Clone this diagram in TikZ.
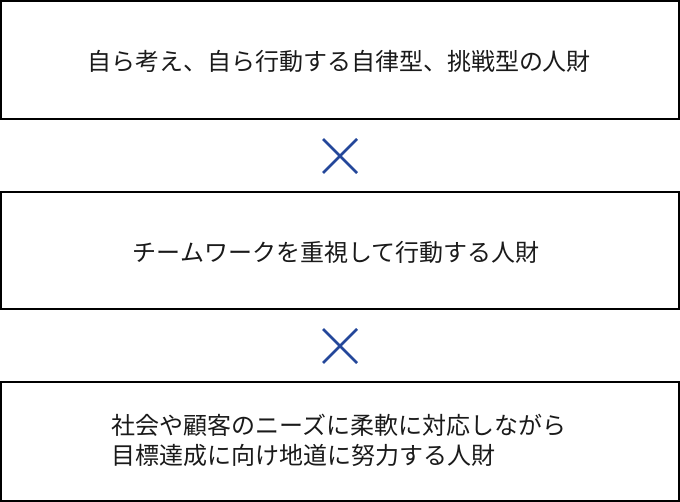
\documentclass[tikz,border=0pt]{standalone}
\usepackage{fontspec}
\setmainfont{Noto Sans CJK JP}
\definecolor{xblue}{HTML}{24479A}
\definecolor{txt}{HTML}{1A1A1A}
\begin{document}
\begin{tikzpicture}[x=1pt,y=-1pt,
  panel/.style={draw=black,line width=2pt},
  lbl/.style={text=txt,font=\fontsize{24}{30}\selectfont,inner sep=0pt,align=left},
  cross/.style={draw=xblue,line width=2.6pt}]
\useasboundingbox (0,0) rectangle (680,502);
\fill[white] (0,0) rectangle (680,502);
\draw[panel] (1,1) rectangle (679,119);
\draw[panel] (1,192) rectangle (679,309.5);
\draw[panel] (1,382) rectangle (679,500.5);
\node[lbl] (t1) at (339,61) {自ら考え、自ら行動する自律型、挑戦型の人財};
\node[lbl] (t2) at (336,252) {チームワークを重視して行動する人財};
\node[lbl] (t3) at (339,440) {社会や顧客のニーズに柔軟に対応しながら\\目標達成に向け地道に努力する人財};
\coordinate (a1) at (323,139); \coordinate (b1) at (357,173);
\coordinate (c1) at (357,139); \coordinate (d1) at (323,173);
\draw[cross] (a1) -- (b1); \draw[cross] (c1) -- (d1);
\coordinate (a2) at (323,329); \coordinate (b2) at (357,363);
\coordinate (c2) at (357,329); \coordinate (d2) at (323,363);
\draw[cross] (a2) -- (b2); \draw[cross] (c2) -- (d2);
\end{tikzpicture}
\end{document}
